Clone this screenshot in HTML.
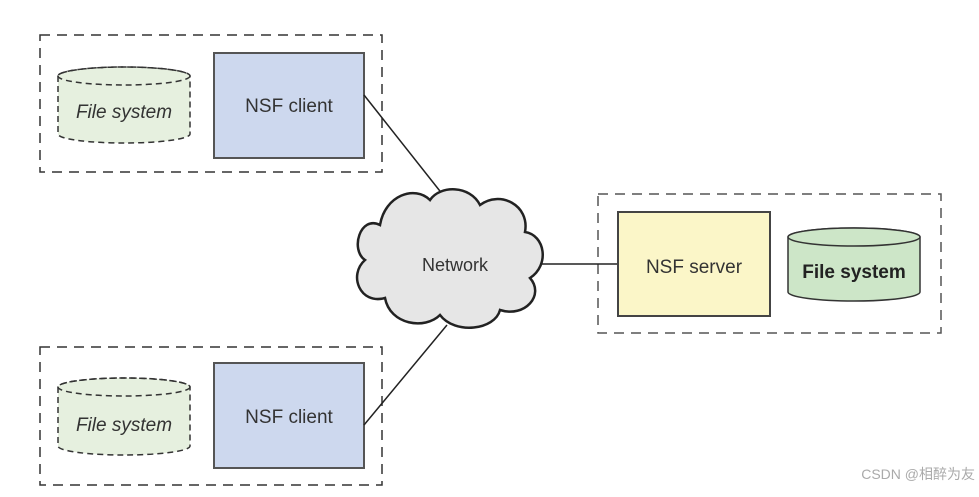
<!DOCTYPE html>
<html><head><meta charset="utf-8"><style>
body{margin:0;background:#fff;}
svg text{font-family:"Liberation Sans","Noto Sans CJK SC",sans-serif;}
</style></head><body>
<svg width="979" height="492" xmlns="http://www.w3.org/2000/svg">
<g fill="none" stroke="#333" stroke-width="1.5" stroke-dasharray="10,7">
<rect x="40" y="35" width="342" height="137"/>
<rect x="40" y="347" width="342" height="138"/>
<rect x="598" y="194" width="343" height="139" stroke="#555"/>
</g>
<!-- dashed cylinders -->
<g stroke="#333" stroke-width="1.5" stroke-dasharray="6,4" fill="#e6f0df">
<path d="M58,76 L58,134 A66,9 0 0 0 190,134 L190,76 A66,9 0 0 0 58,76 Z"/>
<ellipse cx="124" cy="76" rx="66" ry="9" fill="none"/>
<path d="M58,387 L58,446 A66,9 0 0 0 190,446 L190,387 A66,9 0 0 0 58,387 Z"/>
<ellipse cx="124" cy="387" rx="66" ry="9" fill="none"/>
</g>
<text x="124" y="118" font-size="19" font-style="italic" fill="#333" text-anchor="middle">File system</text>
<text x="124" y="431" font-size="19" font-style="italic" fill="#333" text-anchor="middle">File system</text>
<!-- clients -->
<rect x="214" y="53" width="150" height="105" fill="#cdd8ee" stroke="#555" stroke-width="2"/>
<rect x="214" y="363" width="150" height="105" fill="#cdd8ee" stroke="#555" stroke-width="2"/>
<text x="289" y="112" font-size="19" fill="#333" text-anchor="middle">NSF client</text>
<text x="289" y="423" font-size="19" fill="#333" text-anchor="middle">NSF client</text>
<!-- lines -->
<g stroke="#222" stroke-width="1.5">
<line x1="364" y1="95" x2="447" y2="200"/>
<line x1="447" y1="325" x2="364" y2="425"/>
<line x1="538" y1="264" x2="618" y2="264"/>
</g>
<!-- cloud -->
<path d="M380,225 C360,215 350,250 365,260 C348,275 360,305 385,298 C390,325 425,330 440,315 C455,335 495,330 500,310 C525,318 545,295 530,278 C550,265 545,235 525,232 C530,205 500,190 480,205 C470,185 440,185 430,200 C415,185 385,195 380,225 Z" fill="#e6e6e6" stroke="#222" stroke-width="2.5"/>
<text x="455" y="271" font-size="18" fill="#333" text-anchor="middle">Network</text>
<!-- server -->
<rect x="618" y="212" width="152" height="104" fill="#fbf6c8" stroke="#444" stroke-width="2"/>
<text x="694" y="273" font-size="19" fill="#333" text-anchor="middle">NSF server</text>
<path d="M788,237 L788,292 A66,9 0 0 0 920,292 L920,237 A66,9 0 0 0 788,237 Z" fill="#cde6c8" stroke="#333" stroke-width="1.5"/>
<ellipse cx="854" cy="237" rx="66" ry="9" fill="#cde6c8" stroke="#333" stroke-width="1.5"/>
<text x="854" y="278" font-size="19" font-weight="bold" fill="#222" text-anchor="middle">File system</text>
<text x="975" y="479" font-size="14" fill="#aaa" text-anchor="end">CSDN @相醉为友</text>
</svg>
</body></html>
